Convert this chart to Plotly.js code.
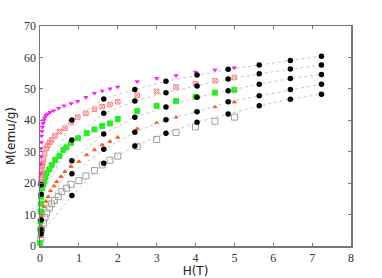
<!DOCTYPE html>
<html>
<head>
<meta charset="utf-8">
<script src="https://cdn.plot.ly/plotly-3.0.1.min.js"></script>
<style>
  html, body { margin: 0; padding: 0; background: #fff; }
  #chart { width: 382px; height: 278px; }
</style>
</head>
<body>
<div id="chart"></div>
<script>
// fitted curves (black dots joined by dotted lines)
const hFit = [0.03, 0.82, 1.64, 2.44, 3.24, 4.04, 4.84, 5.64, 6.44, 7.24];
const fit1 = [19.5, 40.1, 46.8, 49.8, 52.4, 54.4, 56.2, 57.6, 59.0, 60.4];
const fit2 = [16.5, 33.7, 42.2, 46.1, 48.8, 50.9, 53.1, 54.8, 56.3, 57.6];
const fit3 = [8.3, 27.1, 35.6, 41.0, 44.2, 47.3, 49.4, 51.5, 53.3, 54.6];
const fit4 = [5.2, 23.0, 30.8, 36.2, 40.2, 42.7, 45.9, 47.8, 49.8, 51.5];
const fit5 = [3.9, 16.1, 26.3, 31.8, 35.9, 39.4, 42.0, 44.6, 46.7, 48.3];

// measured curves
const hMag = [0.01, 0.015, 0.02, 0.025, 0.03, 0.035, 0.04, 0.05, 0.06, 0.08, 0.1, 0.12, 0.15, 0.2, 0.26, 0.35, 0.48, 0.62, 0.8, 0.97, 1.18, 1.4, 1.6, 1.8, 2.0, 2.5, 3.0, 3.5, 4.0, 4.5, 5.0];
const mMag = [20, 23, 26, 28.5, 31, 33, 35, 36.5, 37.8, 39, 40, 40.8, 41.5, 42, 42.5, 43, 43.8, 44.6, 45.3, 46.0, 47.3, 48.6, 49.3, 50, 50.6, 52.3, 53.3, 54.2, 55.3, 56, 56.7];

const hPink = [0.02, 0.03, 0.04, 0.05, 0.06, 0.07, 0.09, 0.12, 0.16, 0.2, 0.25, 0.3, 0.38, 0.5, 0.64, 0.8, 0.97, 1.18, 1.4, 1.6, 1.8, 2.0, 2.5, 3.0, 3.5, 4.0, 4.5, 5.0];
const mPink = [20, 21.5, 23, 24.2, 25.3, 26.2, 27.4, 29.3, 31, 32, 33, 33.8, 35, 36.4, 37.5, 39.3, 41, 42.2, 43.5, 44.3, 45, 45.9, 48, 49.2, 50.6, 51.6, 52.6, 53.6];

const hGreen = [0.005, 0.01, 0.012, 0.015, 0.02, 0.03, 0.05, 0.08, 0.11, 0.14, 0.17, 0.24, 0.3, 0.39, 0.5, 0.6, 0.68, 0.8, 0.98, 1.2, 1.4, 1.6, 1.8, 2.0, 2.5, 3.0, 3.5, 4.0, 4.5, 5.0];
const mGreen = [1, 5.2, 7.8, 11, 13.5, 15.7, 18.4, 19.5, 20.5, 22, 23.2, 24.4, 25.8, 27.4, 28.7, 30.6, 31.4, 32.8, 34.3, 35.9, 37.1, 38.2, 39, 40.4, 43, 44.6, 46.1, 47.5, 48.8, 49.7];

const hOrange = [0.01, 0.02, 0.04, 0.07, 0.1, 0.15, 0.21, 0.27, 0.36, 0.43, 0.54, 0.64, 0.8, 1.0, 1.2, 1.4, 1.6, 1.8, 2.0, 2.5, 3.0, 3.5, 4.0, 4.5, 5.0];
const mOrange = [3, 6.5, 9.4, 11, 12.6, 14.2, 15.7, 17.6, 19.1, 20.5, 22.1, 23.7, 25.3, 26.9, 29, 30.6, 32.2, 33.3, 34.6, 37.3, 39.2, 41, 42.8, 44.3, 45.8];

const hGray = [0.02, 0.04, 0.09, 0.13, 0.17, 0.24, 0.3, 0.37, 0.47, 0.56, 0.68, 0.8, 1.0, 1.18, 1.4, 1.6, 1.8, 2.0, 2.5, 3.0, 3.5, 4.0, 4.5, 5.0];
const mGray = [2.5, 5.2, 7.3, 9.1, 10.5, 12.1, 13.4, 14.5, 15.7, 17.3, 18.4, 19.6, 20.8, 22.3, 24, 25.8, 27.3, 28.6, 31.7, 33.9, 36.1, 37.9, 39.7, 41];

function measured(x, y, symbol, color, size) {
  return {
    x: x, y: y, type: 'scatter', mode: 'markers', cliponaxis: false,
    marker: { symbol: symbol, color: color, size: size, line: { color: color, width: 1 } },
    showlegend: false, hoverinfo: 'x+y'
  };
}

function fitted(y) {
  return {
    x: hFit, y: y, type: 'scatter', mode: 'lines+markers', cliponaxis: false,
    line: { color: '#b8b8b8', width: 0.8, dash: 'dot' },
    marker: { symbol: 'circle', color: '#000', size: 5.5 },
    showlegend: false, hoverinfo: 'x+y'
  };
}

const data = [
  measured(hGray, mGray, 'square-open', '#a0a0a0', 6),
  measured(hOrange, mOrange, 'triangle-up', '#ff5a1e', 3.5),
  measured(hGreen, mGreen, 'square', '#22ee22', 5),
  measured(hPink, mPink, 'square-x-open', '#ff8080', 4.5),
  measured(hMag, mMag, 'triangle-down', '#ff22ff', 3.5),
  fitted(fit1), fitted(fit2), fitted(fit3), fitted(fit4), fitted(fit5)
];

const axisCommon = {
  showline: true, linecolor: '#777', linewidth: 1.5, mirror: 'ticks',
  ticks: 'inside', ticklen: 3, tickcolor: '#777',
  showgrid: false, zeroline: false,
  tickfont: { family: 'Liberation Serif, serif', size: 12, color: '#333' }
};

const layout = {
  width: 382, height: 278,
  margin: { l: 40, r: 31, t: 26, b: 32 },
  paper_bgcolor: '#fff', plot_bgcolor: '#fff',
  xaxis: Object.assign({}, axisCommon, {
    range: [0, 8], dtick: 1, tick0: 0,
    title: { text: 'H(T)', font: { family: 'DejaVu Sans, sans-serif', size: 12, color: '#222' }, standoff: 3 }
  }),
  yaxis: Object.assign({}, axisCommon, {
    range: [0, 70], dtick: 10, tick0: 0,
    title: { text: 'M(emu/g)', font: { family: 'DejaVu Sans, sans-serif', size: 12, color: '#222' }, standoff: 6 }
  })
};

Plotly.newPlot('chart', data, layout, { displayModeBar: false, staticPlot: true });
</script>
</body>
</html>
